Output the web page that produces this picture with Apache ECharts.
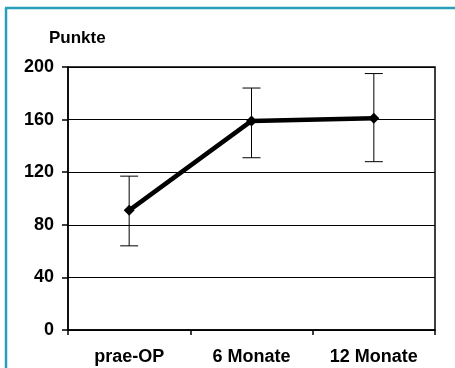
<!DOCTYPE html>
<html>
<head>
<meta charset="utf-8">
<script src="https://cdn.jsdelivr.net/npm/echarts@6/dist/echarts.min.js"></script>
<style>html,body{margin:0;padding:0;background:#fff}#c{width:455px;height:368px}</style>
</head>
<body>
<div id="c"></div>
<script>
var categories = ['prae-OP', '6 Monate', '12 Monate'];
var means = [91, 159, 161];
var upper = [117, 184, 195];
var lower = [64, 131, 128];
var yTicks = [0, 40, 80, 120, 160, 200];

var chart = echarts.init(document.getElementById('c'));
var font = 'Liberation Sans, Arial, sans-serif';
var errData = categories.map(function (c, i) { return [i, lower[i], upper[i]]; });

chart.setOption({
  animation: false,
  graphic: [
    { type: 'line', shape: { x1: 6, y1: 8, x2: 6, y2: 368 }, style: { stroke: '#2a9fb9', lineWidth: 2.5 } },
    { type: 'line', shape: { x1: 5, y1: 8, x2: 455, y2: 8 }, style: { stroke: '#2a9fb9', lineWidth: 2.5 } }
  ],
  title: {
    text: 'Punkte', left: 44, top: 25,
    textStyle: { fontFamily: font, fontWeight: 'bold', fontSize: 17, color: '#000' }
  },
  grid: { left: 68, right: 20, top: 67, bottom: 38, show: true, borderColor: '#000', borderWidth: 1.5, backgroundColor: 'transparent' },
  xAxis: {
    type: 'category', data: categories, boundaryGap: true,
    axisLine: { lineStyle: { color: '#000', width: 1.5 } },
    axisTick: { show: true, length: 5, lineStyle: { color: '#000', width: 1.5 } },
    axisLabel: { fontFamily: font, fontWeight: 'bold', fontSize: 18, color: '#000', margin: 18 }
  },
  yAxis: {
    type: 'value', min: 0, max: 200, interval: 40,
    axisLine: { show: true, lineStyle: { color: '#000', width: 1.5 } },
    axisTick: { show: true, length: 6, lineStyle: { color: '#000', width: 1.5 } },
    axisLabel: { fontFamily: font, fontWeight: 'bold', fontSize: 18, color: '#000', margin: 14,
      formatter: function (v) { return yTicks.indexOf(v) >= 0 ? String(v) : ''; } },
    splitLine: { show: true, lineStyle: { color: '#000', width: 1 } }
  },
  series: [
    {
      type: 'custom',
      data: errData,
      z: 1,
      renderItem: function (params, api) {
        var x = api.value(0);
        var lo = api.coord([x, api.value(1)]);
        var hi = api.coord([x, api.value(2)]);
        var hw = 9;
        var st = { stroke: '#000', lineWidth: 1 };
        return {
          type: 'group',
          children: [
            { type: 'line', shape: { x1: lo[0], y1: lo[1], x2: hi[0], y2: hi[1] }, style: st },
            { type: 'line', shape: { x1: lo[0] - hw, y1: lo[1], x2: lo[0] + hw, y2: lo[1] }, style: st },
            { type: 'line', shape: { x1: hi[0] - hw, y1: hi[1], x2: hi[0] + hw, y2: hi[1] }, style: st }
          ]
        };
      }
    },
    {
      type: 'line', data: means, z: 3,
      symbol: 'diamond', symbolSize: 11, showSymbol: true,
      lineStyle: { color: '#000', width: 4.5 },
      itemStyle: { color: '#000' }
    }
  ]
});
</script>
</body>
</html>
